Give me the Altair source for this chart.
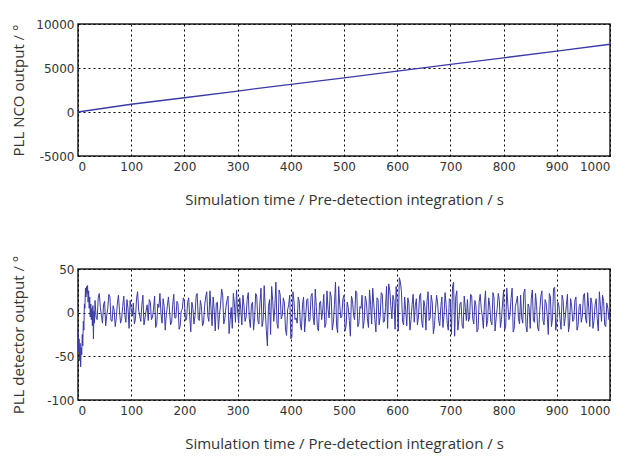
import altair as alt
import pandas as pd

# ---- top panel: PLL NCO output (degrees) ----
nco_t = [0, 100, 200, 300, 400, 500, 600, 700, 800, 900, 1000]
nco_v = [0, 880, 1620, 2380, 3150, 3870, 4640, 5400, 6160, 6920, 7700]

# ---- bottom panel: PLL detector output (degrees) ----
det_t_start = list(range(0, 32))
det_v_start = [-20, -45, -30, -55, -35, -62, -40, -48, -25, -38, -10, -20, 10, 5, 28, 18,
               30, 22, 31, 12, 25, 5, 18, -5, 10, -8, 5, -15, 8, -30, 2, -12]
det_t_a = list(range(32, 1001, 4))
det_v_a = [
    14, -8, 22, -3, 9, -15, 5, 18, -10, 3, -6, 20, -12, 7, -2, 15, -18, 4, 11, -7, 24, -4, 8, -14, 2,
    -9, 12, -5, 19, -13, 6, -1, 16, -20, 8, 3, -11, 21, -6, 10, -16, 4, 13, -8, 17, -22, 5, -3, 22, -9,
    7, -12, 18, -4, 25, -15, 3, 11, -19, 9, 20, -7, 14, -24, 6, 22, -11, 2, 17, -14, 8, -5, 23, -17, 12,
    -6, 19, -13, 28, -9, 4, -38, 15, 30, -10, 35, -18, 21, -3, 11, -26, 9, -30, 24, -8, -12, 12, -20, 18, -5,
    16, -9, 22, -14, 7, -21, 13, 3, -17, 25, -6, 18, -11, 35, -23, 9, -4, 20, -15, 6, -27, 14, -8, 23, -12,
    5, -18, 19, -7, 26, -13, 10, -22, 15, -4, 21, -10, 30, 33, 8, 20, -19, 12, 40, 24, -14, 3, 17, -20, 9,
    -11, 16, -5, 22, -17, 7, 13, -9, 20, -24, 4, 11, -15, 18, -3, 9, -20, 14, 30, -27, 25, -8, 12, -18, 6,
    15, -6, 19, -13, 8, -19, 21, -4, 10, -16, 17, -10, 23, -21, 5, 14, -8, 26, -15, 9, -3, 28, -18, 12, -7,
    20, -12, 27, -22, 6, 16, -9, 22, -17, 3, 25, -14, 11, -25, 18, -6, 29, -11, 8, -19, 14, -5, 21, -13, 7,
    -8, 18, -15, 10, -4, 22, -12, 6, 17, -18, 9, -7, 24, -10, 13, -16, 5, -3,
]
det_t_b = list(range(34, 1000, 4))
det_v_b = [
    -5, 17, 6, -12, 13, -3, 21, -9, 8, -16, 11, 2, -7, 19, -11, 5, 14, -4, -13, 16, 3, -10, 20, -6, 9,
    15, -8, 4, -17, 10, 22, -12, 7, -3, 18, -14, 9, -6, 13, -19, 2, 17, -9, 11, -4, 12, -13, 19, -7, 14,
    -15, 8, 24, -10, 5, 18, -21, 12, -2, 27, -13, 6, 19, -8, -18, 10, 26, -12, 4, 20, -10, 15, -7, 9, -20,
    22, -9, 11, -16, 31, -20, 7, -25, 14, 6, -12, 26, -7, 17, -19, 3, 20, -28, 13, -6, 18, -14, 9, -22, 15,
    -10, 19, -5, 27, -17, 11, -8, 21, -13, 4, 24, -20, 9, -15, 30, -6, 16, -21, 12, -9, 19, -3, 25, -16, 7,
    20, -9, 13, -17, 9, 28, -8, 17, -14, 23, -11, 6, -18, 26, -7, 14, 30, -21, 35, -10, 18, -15, 11, -8, 21,
    8, -14, 19, -10, 14, -20, 24, -6, 11, -15, 20, -9, 7, -17, 23, -12, 16, -25, 35, 18, -20, 10, -14, 19, -9,
    -10, 21, -7, 14, -22, 12, 5, -18, 25, -9, 8, -14, 17, -6, 22, -17, 11, -20, 28, -8, 16, -22, 7, 19, -13,
    -6, 23, -15, 10, -18, 26, -11, 8, -21, 19, -9, 15, -4, 22, -16, 28, -20, 12, -7, 20, -15, 9, -22, 16, -10,
    14, -20, 7, -11, 19, -6, 23, -16, 11, -9, 16, -21, 8, 20, -14, 11, -8,
]

x_ticks = [0, 100, 200, 300, 400, 500, 600, 700, 800, 900, 1000]
nco_ticks = [-5000, 0, 5000, 10000]
det_ticks = [-100, -50, 0, 50]

x_title = "Simulation time / Pre-detection integration / s"
line_color = "#3a3aa8"

df_nco = pd.DataFrame({"t": nco_t, "v": nco_v})
det_t = det_t_start + det_t_a + det_t_b
det_v = det_v_start + det_v_a + det_v_b
df_det = pd.DataFrame({"t": det_t, "v": det_v}).sort_values("t").reset_index(drop=True)

label_expr = "datum.value < 0 ? '-' + format(-datum.value, 'd') : format(datum.value, 'd')"


def x_axis():
    return alt.Axis(values=x_ticks, title=x_title, grid=True, ticks=False,
                    labelPadding=5, titleY=36, domain=False,
                    labelExpr=label_expr, labelFont="DejaVu Sans", labelFontSize=12)


def y_axis(vals, title):
    return alt.Axis(values=vals, title=title, grid=True, ticks=False,
                    labelPadding=4, titleX=-52, domain=False,
                    labelExpr=label_expr, labelFont="DejaVu Sans", labelFontSize=12)


top = alt.Chart(df_nco).mark_line(color=line_color, strokeWidth=1.3).encode(
    x=alt.X("t:Q", scale=alt.Scale(domain=[0, 1000], nice=False, zero=False), axis=x_axis()),
    y=alt.Y("v:Q", scale=alt.Scale(domain=[-5000, 10000], nice=False), axis=y_axis(nco_ticks, "PLL NCO output / °")),
).properties(width=532, height=132)

bottom = alt.Chart(df_det).mark_line(color=line_color, strokeWidth=1.0).encode(
    x=alt.X("t:Q", scale=alt.Scale(domain=[0, 1000], nice=False, zero=False), axis=x_axis()),
    y=alt.Y("v:Q", scale=alt.Scale(domain=[-100, 50], nice=False), axis=y_axis(det_ticks, "PLL detector output / °")),
).properties(width=532, height=131)

chart = alt.vconcat(top, bottom, spacing=46).properties(
    padding={"left": 10, "top": 17, "right": 4, "bottom": 4},
    background="white",
).configure_view(
    stroke="#222222", strokeWidth=1.5
).configure_axis(
    gridColor="#000000", gridDash=[2, 3], gridOpacity=1, gridWidth=1,
    labelColor="#333333",
    titleFont="Open Sans", titleFontSize=15, titleFontWeight="normal", titleColor="#333333",
)

chart.save("out.html", embed_options={"renderer": "svg", "actions": False})
